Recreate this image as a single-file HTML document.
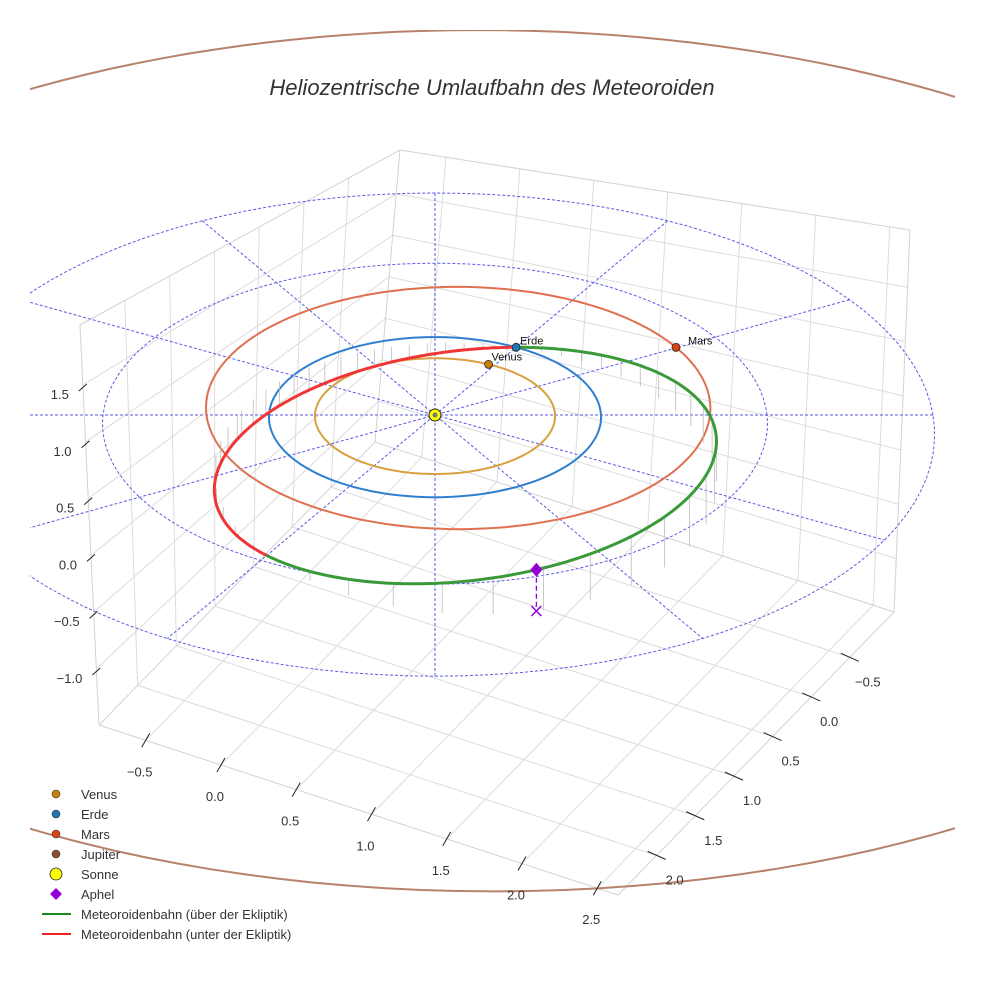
<!DOCTYPE html>
<html><head><meta charset="utf-8"><style>
html,body{margin:0;padding:0;background:#fff;}
svg{display:block;font-family:"Liberation Sans",sans-serif;}
</style></head><body>
<svg id="chart" width="984" height="984" viewBox="0 0 984 984" xmlns="http://www.w3.org/2000/svg">
<defs><clipPath id="clipA"><rect x="30" y="30" width="925" height="940"/></clipPath></defs>
<g id="panes"></g>
<g id="plot" clip-path="url(#clipA)"></g>
<g id="ticks"></g>
<text x="492" y="95" text-anchor="middle" font-size="22" font-style="italic" fill="#333">Heliozentrische Umlaufbahn des Meteoroiden</text>
<g id="legend"></g>
</svg>
<script>
// ---- data ----
const xTicks = [-0.5, 0.0, 0.5, 1.0, 1.5, 2.0, 2.5];
const yTicks = [-0.5, 0.0, 0.5, 1.0, 1.5, 2.0];
const zTicks = [-1.0, -0.5, 0.0, 0.5, 1.0, 1.5];
const planetNames = ["Venus", "Erde", "Mars", "Jupiter"];
const planetRadii = [0.723, 1.0, 1.524, 5.33];
const planetAngles = [63, 60, 28, 0];
const planetColors = ["#c8800a", "#1f77b4", "#d84412", "#8c5030"];
const orbitColors = ["#d9a040", "#2e7fd0", "#e07050", "#b8826a"];
const orbitCenters = [[0, 0], [0, 0], [0.14, 0.15], [0.3, 0.2]];
const meteorQ = [1.319, 0.443, 104, 60, 0.21]; // p, e, perihelion angle, ascending node, sin(i)
const ringRadii = [2, 3];
const rayAngles = [0, 30, 60, 90, 120, 150];

// ---- projections ----
const SX = 166, SY = 80, K = 0.027, SZ = 112, CX = 435, CY = 415;
function P(X, Y, Z) {
  const f = 1 + K * Y;
  return [CX + SX * X / f, CY - SY * Y / f - SZ * (Z || 0) / f];
}
function polar(r, deg, c) {
  const a = deg * Math.PI / 180;
  return [(c ? c[0] : 0) + r * Math.cos(a), (c ? c[1] : 0) + r * Math.sin(a)];
}
const FL = [99, 725], FF = [618, 895], FB = [375, 442], FR = [894, 612];
const TL = [80, 325], TB = [400, 150], TR = [910, 230], TF = [TL[0] + TR[0] - TB[0], TL[1] + TR[1] - TB[1]];
function bil(a, b, c, d, u, v) {
  return [a[0]*(1-u)*(1-v) + b[0]*u*(1-v) + c[0]*(1-u)*v + d[0]*u*v,
          a[1]*(1-u)*(1-v) + b[1]*u*(1-v) + c[1]*(1-u)*v + d[1]*u*v];
}
function B(u, v, w) {
  const f = bil(FL, FF, FB, FR, u, v), t = bil(TL, TF, TB, TR, u, v);
  return [f[0] + (t[0] - f[0]) * w, f[1] + (t[1] - f[1]) * w];
}
const ux = x => 0.09 + (x + 0.5) / 3 * 0.87;
const vy = y => 0.14 + (2.0 - y) / 2.5 * 0.70;
const wz = z => 0.14 + (z + 1) / 2.5 * 0.71;

const NS = "http://www.w3.org/2000/svg";
function mk(parent, tag, attrs) {
  const el = document.createElementNS(NS, tag);
  for (const k in attrs) el.setAttribute(k, attrs[k]);
  parent.appendChild(el);
  return el;
}
function line(parent, a, b, stroke, w, dash) {
  const el = mk(parent, "line", {x1: a[0], y1: a[1], x2: b[0], y2: b[1], stroke: stroke, "stroke-width": w});
  if (dash) el.setAttribute("stroke-dasharray", dash);
  return el;
}
function pathD(pts) { return pts.map((p, i) => (i ? "L" : "M") + p[0].toFixed(1) + " " + p[1].toFixed(1)).join(""); }

const panes = document.getElementById("panes");
const plot = document.getElementById("plot");
const ticks = document.getElementById("ticks");
const GC = "#dcdcdc";

xTicks.forEach(x => {
  const u = ux(x);
  let l = line(panes, B(u, 0, 0), B(u, 1, 0), GC, 1);
  
  
  l = line(panes, B(u, 1, 0), B(u, 1, 1), GC, 1);
  
  
});
yTicks.forEach(y => {
  const v = vy(y);
  let l = line(panes, B(0, v, 0), B(1, v, 0), GC, 1);
  
  
  l = line(panes, B(0, v, 0), B(0, v, 1), GC, 1);
  
  
});
zTicks.forEach(z => {
  const w = wz(z);
  let l = line(panes, B(0, 0, w), B(0, 1, w), GC, 1);
  
  
  l = line(panes, B(0, 1, w), B(1, 1, w), GC, 1);
  
  
});
[[FL, FF], [FF, FR], [FL, FB], [FB, FR], [FL, TL], [FB, TB], [FR, TR], [TL, TB], [TB, TR]].forEach(e => {
  const l = line(panes, e[0], e[1], "#d2d2d2", 1);
  
  
});

xTicks.forEach(x => {
  const p = B(ux(x), 0, 0);
  const t = line(ticks, [p[0] - 4, p[1] + 7], [p[0] + 4, p[1] - 7], "#222", 1);
  
  
  const lb = mk(ticks, "text", {x: p[0] - 6, y: p[1] + 36, "text-anchor": "middle", "font-size": 13, fill: "#333"});
  lb.textContent = x.toFixed(1).replace("-", "\u2212");
  
  
});
yTicks.forEach(y => {
  const p = B(1, vy(y), 0);
  const t = line(ticks, [p[0] - 9, p[1] - 4], [p[0] + 9, p[1] + 4], "#222", 1);
  
  
  const lb = mk(ticks, "text", {x: p[0] + 18, y: p[1] + 29, "text-anchor": "middle", "font-size": 13, fill: "#333"});
  lb.textContent = y.toFixed(1).replace("-", "\u2212");
  
  
});
zTicks.forEach(z => {
  const p = B(0, 0, wz(z));
  const t = line(ticks, [p[0] - 4, p[1] + 6], [p[0] + 4, p[1] - 1], "#222", 1);
  
  
  const lb = mk(ticks, "text", {x: p[0] - 14, y: p[1] + 14, "text-anchor": "end", "font-size": 13, fill: "#333"});
  lb.textContent = z.toFixed(1).replace("-", "\u2212");
  
  
});

ringRadii.forEach(r => {
  const pts = [];
  for (let a = 0; a <= 360; a += 3) { const q = polar(r, a); pts.push(P(q[0], q[1], 0)); }
  const el = mk(plot, "path", {d: pathD(pts), fill: "none", stroke: "#5a5ae6", "stroke-width": 1, "stroke-dasharray": "3,2"});
  
  
});
rayAngles.forEach(a => {
  const r = ringRadii[ringRadii.length - 1];
  const p1 = polar(r, a), p2 = polar(r, a + 180);
  const el = line(plot, P(p1[0], p1[1], 0), P(p2[0], p2[1], 0), "#5a5ae6", 1, "3,2");
  
  
});

planetRadii.forEach((r, i) => {
  const pts = [];
  for (let a = 0; a <= 360; a += 2) { const q = polar(r, a, orbitCenters[i]); pts.push(P(q[0], q[1], 0)); }
  const el = mk(plot, "path", {d: pathD(pts), fill: "none", stroke: orbitColors[i], "stroke-width": 2});
  
  
});

function meteor(th) {
  const [p, e, w, node, si] = meteorQ;
  const r = p / (1 + e * Math.cos((th - w) * Math.PI / 180));
  const q = polar(r, th);
  const z = -r * si * Math.sin((th - node) * Math.PI / 180);
  return [q[0], q[1], z];
}
for (let th = -180; th < 180; th += 7) {
  const m = meteor(th);
  const el = line(plot, P(m[0], m[1], m[2]), P(m[0], m[1], 0), "#bbbbbb", 0.8);
  
  
}
let segs = [], cur = null, curSign = null;
for (let th = -180; th <= 180; th += 1) {
  const m = meteor(th), s = m[2] >= 0;
  if (s !== curSign) { if (cur) { cur.pts.push(P(m[0], m[1], m[2])); } cur = {s: s, pts: []}; segs.push(cur); curSign = s; }
  cur.pts.push(P(m[0], m[1], m[2]));
}
segs.forEach(sg => {
  const el = mk(plot, "path", {d: pathD(sg.pts), fill: "none", stroke: sg.s ? "#3a9a3a" : "#f03535", "stroke-width": 3});
  
  
});

const ap = meteor(meteorQ[2] - 180);
const apT = P(ap[0], ap[1], ap[2]), apB = P(ap[0], ap[1], 0);
let el = line(plot, apT, apB, "#9400d3", 1.3, "5,3");


el = mk(plot, "path", {d: `M${apB[0]-5} ${apB[1]-5}L${apB[0]+5} ${apB[1]+5}M${apB[0]+5} ${apB[1]-5}L${apB[0]-5} ${apB[1]+5}`, stroke: "#9400d3", "stroke-width": 1.5});


el = mk(plot, "path", {d: `M${apT[0]} ${apT[1]-7}L${apT[0]+6} ${apT[1]}L${apT[0]} ${apT[1]+7}L${apT[0]-6} ${apT[1]}Z`, fill: "#9400d3"});



el = mk(plot, "circle", {cx: CX, cy: CY, r: 6, fill: "#ffff00", stroke: "#222", "stroke-width": 1});


el = mk(plot, "circle", {cx: CX, cy: CY, r: 2.5, fill: "#777"});



const labelOff = [[3, -4], [4, -3], [12, -3]];
[0, 1, 2].forEach(i => {
  const q = polar(planetRadii[i], planetAngles[i], orbitCenters[i]);
  const p = P(q[0], q[1], 0);
  const c = mk(plot, "circle", {cx: p[0], cy: p[1], r: 4, fill: planetColors[i], stroke: "#222", "stroke-width": 0.8});
  
  
  const t = mk(plot, "text", {x: p[0] + labelOff[i][0], y: p[1] + labelOff[i][1], "font-size": 11, fill: "#111"});
  t.textContent = planetNames[i];
  
  
});

const legend = document.getElementById("legend");
const legendLabels = ["Venus", "Erde", "Mars", "Jupiter", "Sonne", "Aphel", "Meteoroidenbahn (über der Ekliptik)", "Meteoroidenbahn (unter der Ekliptik)"];
legendLabels.forEach((lab, i) => {
  const y = 795 + i * 20;
  const g = mk(legend, "g", {});
  
  
  if (i < 4) mk(g, "circle", {cx: 56, cy: y - 1, r: 4, fill: planetColors[i], stroke: "#333", "stroke-width": 0.6});
  else if (i === 4) mk(g, "circle", {cx: 56, cy: y - 1, r: 6, fill: "#ffff00", stroke: "#222", "stroke-width": 0.8});
  else if (i === 5) mk(g, "path", {d: `M56 ${y-7}L62 ${y-1}L56 ${y+5}L50 ${y-1}Z`, fill: "#9400d3"});
  else mk(g, "line", {x1: 42, y1: y - 1, x2: 71, y2: y - 1, stroke: i === 6 ? "#1a8a1a" : "#f02020", "stroke-width": 2});
  const t = mk(g, "text", {x: 81, y: y + 4, "font-size": 13, fill: "#333"});
  t.textContent = lab;
});
</script>
</body></html>
